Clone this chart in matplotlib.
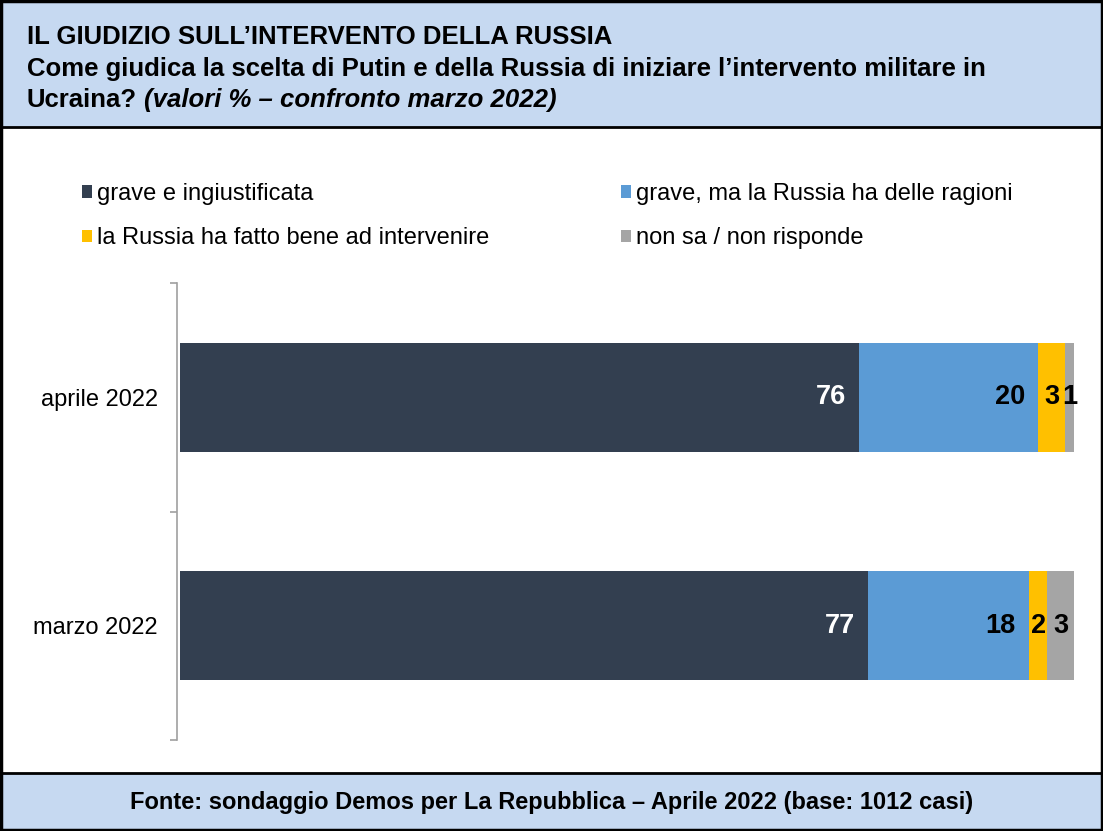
import matplotlib.pyplot as plt
import matplotlib.patches as mpatches
import numpy as np

plt.rcParams['font.family'] = ['Liberation Sans', 'DejaVu Sans']

categories = ["marzo 2022", "aprile 2022"]
series_names = ["grave e ingiustificata", "grave, ma la Russia ha delle ragioni",
                "la Russia ha fatto bene ad intervenire", "non sa / non risponde"]
values = {
    "grave e ingiustificata": [77, 76],
    "grave, ma la Russia ha delle ragioni": [18, 20],
    "la Russia ha fatto bene ad intervenire": [2, 3],
    "non sa / non risponde": [3, 1],
}
colors = ["#333F50", "#5B9BD5", "#FFC000", "#A5A5A5"]
label_colors = ["white", "black", "black", "black"]

W, H = 1103, 831
fig = plt.figure(figsize=(W / 100, H / 100), dpi=100)

# header / footer bands and frame
head = "#C6D9F1"
fig.patches.append(mpatches.Rectangle((0, 1 - 127 / H), 1, 127 / H, transform=fig.transFigure,
                                      facecolor=head, edgecolor="black", linewidth=2, zorder=0))
fig.patches.append(mpatches.Rectangle((0, 0), 1, 58 / H, transform=fig.transFigure,
                                      facecolor=head, edgecolor="black", linewidth=2, zorder=0))
fig.patches.append(mpatches.Rectangle((0.001, 0.001), 0.998, 0.998, transform=fig.transFigure,
                                      facecolor="none", edgecolor="black", linewidth=2.5, zorder=5))

tfs = 18.5
fig.text(27 / W, 1 - 37 / H, "IL GIUDIZIO SULL\u2019INTERVENTO DELLA RUSSIA",
         fontsize=tfs, fontweight="bold", va="center", ha="left")
fig.text(27 / W, 1 - 69 / H,
         "Come giudica la scelta di Putin e della Russia di iniziare l\u2019intervento militare in",
         fontsize=tfs, fontweight="bold", va="center", ha="left")
t = fig.text(27 / W, 1 - 100 / H, "Ucraina?", fontsize=tfs, fontweight="bold", va="center", ha="left")
fig.canvas.draw()
bb = t.get_window_extent()
fig.text((bb.x1 + 7) / W, 1 - 100 / H, "(valori % \u2013 confronto marzo 2022)", fontsize=tfs,
         fontweight="bold", style="italic", va="center", ha="left")
fig.text(0.5, 1 - 802 / H,
         "Fonte: sondaggio Demos per La Repubblica \u2013 Aprile 2022 (base: 1012 casi)",
         fontsize=17, fontweight="bold", va="center", ha="center")

ax = fig.add_axes([180 / W, 1 - 740 / H, (1074 - 180) / W, (740 - 283) / H])
y = np.arange(len(categories))
left = np.zeros(len(categories))
handles = []
for i, name in enumerate(series_names):
    vals = np.array(values[name], dtype=float)
    bars = ax.barh(y, vals, left=left, height=0.475, color=colors[i], label=name)
    handles.append(bars)
    for yy, l, v in zip(y, left, vals):
        if v >= 10:
            ax.text(l + v - 1.5, yy, f"{v:.0f}", ha="right", va="center",
                    color=label_colors[i], fontsize=19.5, fontweight="bold")
        else:
            ax.text(l + v / 2, yy, f"{v:.0f}", ha="center", va="center",
                    color=label_colors[i], fontsize=19.5, fontweight="bold")
    left += vals

ax.set_xlim(0, 100)
ax.set_ylim(-0.5, 1.5)
ax.set_yticks(y)
ax.set_yticklabels(categories)
ax.tick_params(axis="y", which="major", length=0, pad=14, labelsize=17)
ax.set_yticks([-0.5, 0.5, 1.5], minor=True)
ax.tick_params(axis="y", which="minor", length=5, color="#A0A0A0", width=1.2)
ax.set_xticks([])
for s in ["top", "right", "bottom"]:
    ax.spines[s].set_visible(False)
ax.spines["left"].set_color("#A0A0A0")
ax.spines["left"].set_linewidth(1.2)
ax.spines["left"].set_position(("outward", 2))

order = [0, 2, 1, 3]
fig.legend([handles[k] for k in order], [series_names[k] for k in order],
           loc="upper left", bbox_to_anchor=(82 / W, 1 - 183 / H), ncol=2, borderpad=0,
           borderaxespad=0, frameon=False, fontsize=17, handlelength=0.42, handleheight=0.42,
           handletextpad=0.2, columnspacing=5.6, labelspacing=0.95)

fig.savefig("out.png", dpi=100)
